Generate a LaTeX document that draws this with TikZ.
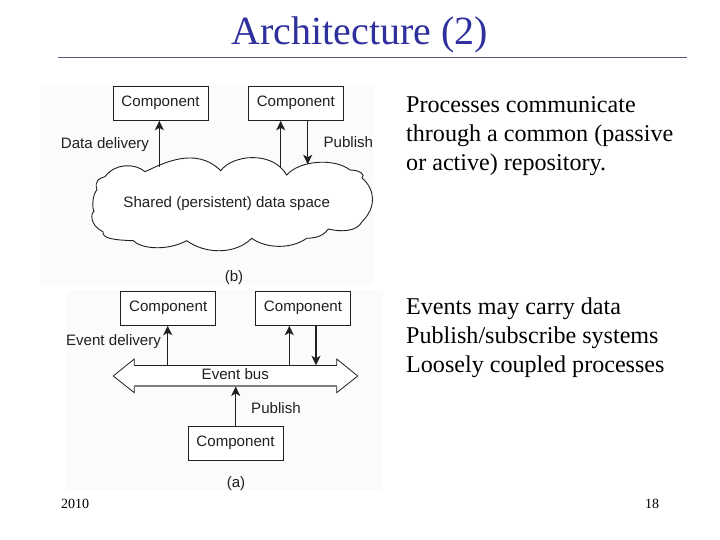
\documentclass[tikz,border=0pt]{standalone}
\usepackage{fontspec}
\setmainfont{Liberation Serif}
\newfontfamily\figfont{Liberation Sans}
\usetikzlibrary{arrows.meta}
\definecolor{titleblue}{HTML}{2F2F9E}
\definecolor{rulegray}{HTML}{55556F}
\definecolor{figink}{HTML}{202020}
\definecolor{figback}{HTML}{FBFBFB}
\tikzset{
  compbox/.style={draw=figink,line width=1pt,fill=white,minimum width=95pt,minimum height=34pt,inner sep=0pt,text=figink,text height=11pt,text depth=5pt,font=\figfont\fontsize{15.1}{16}\selectfont},
  figlabel/.style={text=figink,inner sep=0pt,font=\figfont\fontsize{15.1}{16}\selectfont},
  conn/.style={draw=figink,line width=1.1pt,-{Stealth[length=9.5pt,width=9pt,inset=2.5pt]}},
  outline/.style={draw=figink,line width=0.9pt},
  bodytext/.style={anchor=north west,align=left,inner sep=0pt,text=black,font=\fontsize{24.1}{29}\selectfont},
  foot/.style={inner sep=0pt,text=black,font=\fontsize{14}{16}\selectfont}
}
\begin{document}
\begin{tikzpicture}[x=1pt,y=-1pt]
\useasboundingbox (0,0) rectangle (720,540);
\fill[white] (0,0) rectangle (720,540);
\fill[figback] (40,85) rectangle (373,285);
\fill[figback] (67,290) rectangle (383,490);
% title
\node[inner sep=0pt,text=titleblue,font=\fontsize{40}{44}\selectfont] (title) at (360,34.5) {Architecture (2)};
\coordinate (ruleL) at (58,57);
\coordinate (ruleR) at (687,57);
\draw[rulegray,line width=0.9pt] (ruleL) -- (ruleR);
% cloud
\draw[outline,fill=white]
 (145,171.7) .. controls (160,165) and (195,145) .. (220.7,170.7)
 .. controls (232,155) and (272,150) .. (286.7,175)
 .. controls (300,160) and (335,158) .. (350,170)
 .. controls (360,170) and (366,175) .. (362,178)
 .. controls (376,190) and (376,208) .. (362,221.7)
 .. controls (357,232) and (340,232) .. (328.3,229)
 .. controls (322,238) and (312,238) .. (306.7,238.3)
 .. controls (290,250) and (265,248) .. (251.7,238.3)
 .. controls (235,255) and (205,254) .. (186.7,240.7)
 .. controls (165,252) and (140,248) .. (133.3,240.7)
 .. controls (112,240) and (102,238) .. (103,231.7)
 .. controls (89,225) and (91,212) .. (94,211.7)
 .. controls (91,205) and (94,192) .. (97,190)
 .. controls (94,180) and (100,178) .. (105,176.7)
 .. controls (115,163) and (135,163) .. (145,171.7) -- cycle;
\node[figlabel] (shared) at (226.7,204) {Shared (persistent) data space};
% upper figure
\node[compbox] (b1) at (160.5,103.3) {Component};
\node[compbox] (b2) at (295.8,103.3) {Component};
\coordinate (c1) at (159.3,167);
\coordinate (c2) at (280.7,168);
\coordinate (c3) at (307.7,164.3);
\draw[conn] (c1) -- (c1 |- b1.south);
\draw[conn] (c2) -- (c2 |- b2.south);
\draw[conn] (c3 |- b2.south) -- (c3);
\node[figlabel] (ldata) at (105,144.5) {Data delivery};
\node[figlabel] (lpub1) at (348.3,142.5) {Publish};
\node[figlabel] (lb) at (234,278) {(b)};
% lower figure
\coordinate (busL) at (113.3,376);
\coordinate (busR) at (357.7,376);
\fill[white] (busL) -- (134.3,359) -- (134.3,365.3) -- (336.7,365.3) -- (336.7,359) -- (busR) -- (336.7,392.7) -- (336.7,386) -- (134.3,386) -- (134.3,392.7) -- cycle;
\draw[figink,line width=0.8pt] (134.3,365.3) -- (134.3,359) -- (busL) -- (134.3,392.7) -- (134.3,386);
\draw[figink,line width=0.8pt] (336.7,365.3) -- (336.7,359) -- (busR) -- (336.7,392.7) -- (336.7,386);
\draw[figink,line width=1.3pt] (134.3,365.3) -- (336.7,365.3);
\draw[gray,line width=1.3pt] (134.3,386) -- (336.7,386);
\node[figlabel] (lbus) at (235.3,374.5) {Event bus};
\node[compbox] (a1) at (168.2,308.3) {Component};
\node[compbox] (a2) at (303,308.3) {Component};
\node[compbox] (a3) at (235.5,443.2) {Component};
\coordinate (d1) at (167.7,365.3);
\coordinate (d2) at (289.3,365.3);
\coordinate (d3) at (316,365.3);
\coordinate (d4) at (235.7,386.5);
\draw[conn] (d1) -- (d1 |- a1.south);
\draw[conn] (d2) -- (d2 |- a2.south);
\draw[conn] (d3 |- a2.south) -- (d3);
\draw[conn] (d4 |- a3.north) -- (d4);
\node[figlabel] (levent) at (113.5,341.5) {Event delivery};
\node[figlabel] (lpub2) at (276,408) {Publish};
\node[figlabel] (la) at (236,484) {(a)};
% right text
\node[bodytext] (t1) at (406,96) {Processes communicate\\through a common (passive\\or active) repository.};
\node[bodytext] (t2) at (406,297.5) {Events may carry data\\Publish/subscribe systems\\Loosely coupled processes};
\node[foot] (fl) at (75,504) {2010};
\node[foot] (fr) at (652,504) {18};
\end{tikzpicture}
\end{document}
